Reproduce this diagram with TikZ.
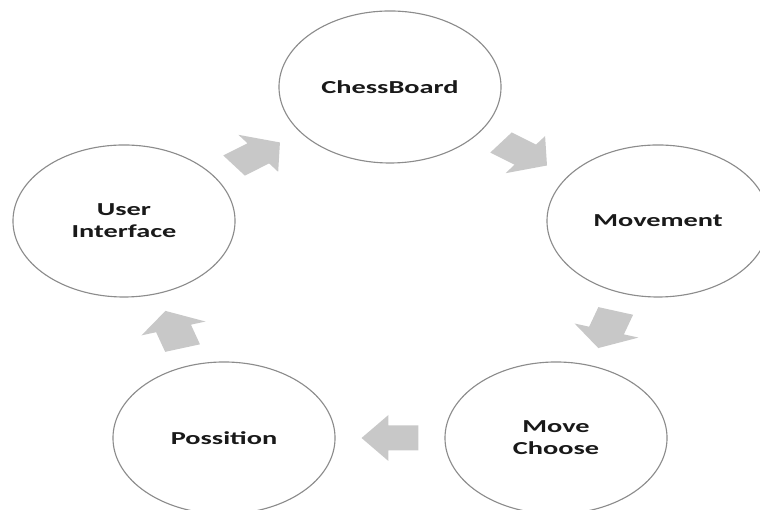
\documentclass[tikz,border=0pt]{standalone}
\usepackage{fontspec}
\newfontfamily\labelfont{Carlito}[FakeStretch=1.55]
\usetikzlibrary{shapes.geometric,calc}
\definecolor{arrowgray}{RGB}{200,200,200}
\definecolor{rimgray}{RGB}{140,140,140}
\tikzset{
  stage/.style={ellipse, draw=rimgray, line width=0.8pt, fill=white,
    minimum width=5.55cm, minimum height=3.8cm, align=center, text=black!90,
    font=\labelfont\bfseries\fontsize{13}{15.5}\selectfont},
  flow/.pic={\fill[arrowgray] (-19.5,-12.5) -- (1.1,-12.5) -- (1.1,-23) -- (19.5,0)
    -- (1.1,23) -- (1.1,12.5) -- (-19.5,12.5) -- cycle;}
}
\begin{document}
\begin{tikzpicture}[x=0.025cm, y=0.025cm]
	\useasboundingbox (0,0) rectangle (760,510);
	\node[stage] (board) at (390,423) {ChessBoard};
	\node[stage] (move) at (658,289) {Movement};
	\node[stage] (choose) at (556,72) {Move\\Choose};
	\node[stage] (pos) at (224,72) {Possition};
	\node[stage] (ui) at (124,289) {User\\Interface};
	\foreach \a/\b in {board/move, move/choose, choose/pos, pos/ui, ui/board}
		\path let \p1 = ($(\b)-(\a)$) in ($(\a)!0.5!(\b)$) pic[xscale=1.46, rotate={atan2(\y1,\x1/1.46)}] {flow};
\end{tikzpicture}
\end{document}
